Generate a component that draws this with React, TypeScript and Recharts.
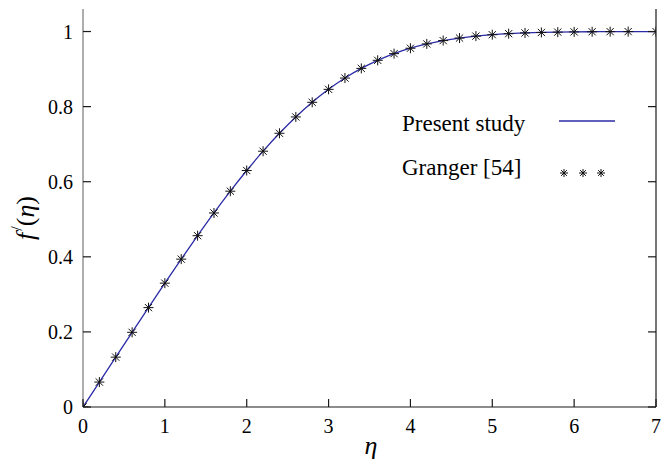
import React from 'react';
import { ComposedChart, Line, Scatter, XAxis, YAxis, Legend } from 'recharts';

// Present study: f'(eta)
const etaLine = [0, 0.2, 0.4, 0.6, 0.8, 1.0, 1.2, 1.4, 1.6, 1.8, 2.0, 2.2, 2.4, 2.6, 2.8, 3.0, 3.2, 3.4, 3.6, 3.8, 4.0, 4.2, 4.4, 4.6, 4.8, 5.0, 5.2, 5.4, 5.6, 5.8, 6.0, 6.2, 6.4, 6.6, 6.8, 7.0];
const fPrimeLine = [0, 0.0664, 0.1328, 0.1989, 0.2647, 0.3298, 0.3938, 0.4563, 0.5168, 0.5748, 0.6298, 0.6813, 0.729, 0.7725, 0.8115, 0.846, 0.8761, 0.9018, 0.9233, 0.9411, 0.9555, 0.967, 0.9759, 0.9827, 0.9878, 0.9916, 0.9943, 0.9962, 0.9975, 0.9984, 0.999, 0.9994, 0.9996, 0.9998, 0.9999, 0.9999];

// Granger [54] points
const etaGranger = [0, 0.2, 0.4, 0.6, 0.8, 1.0, 1.2, 1.4, 1.6, 1.8, 2.0, 2.2, 2.4, 2.6, 2.8, 3.0, 3.2, 3.4, 3.6, 3.8, 4.0, 4.2, 4.4, 4.6, 4.8, 5.0, 5.2, 5.4, 5.6, 5.8, 6.0, 6.22, 6.44, 6.66, 7.0];
const fPrimeGranger = [0, 0.0664, 0.1328, 0.1989, 0.2647, 0.3298, 0.3938, 0.4563, 0.5168, 0.5748, 0.6298, 0.6813, 0.729, 0.7725, 0.8115, 0.846, 0.8761, 0.9018, 0.9233, 0.9411, 0.9555, 0.967, 0.9759, 0.9827, 0.9878, 0.9916, 0.9943, 0.9962, 0.9975, 0.9984, 0.999, 0.9994, 0.9997, 0.9998, 0.9999];

const xTicks = [0, 1, 2, 3, 4, 5, 6, 7];
const yTicks = [0, 0.2, 0.4, 0.6, 0.8, 1];
const yTickLabels = ['0', '0.2', '0.4', '0.6', '0.8', '1'];
const seriesNames = ['Present study', 'Granger [54]'];

const lineData = etaLine.map((x, i) => ({ eta: x, f: fPrimeLine[i] }));
const grangerData = etaGranger.map((x, i) => ({ eta: x, f: fPrimeGranger[i] }));

const FONT = 'Liberation Serif';
const LINE_COLOR = '#2b2ba6';
const AXIS_COLOR = '#1a1a1a';

const Star = ({ cx, cy, r = 5 }: any) => {
  const d = r * 0.72;
  return (
    <g stroke="#111" strokeWidth={1}>
      <line x1={cx - r} y1={cy} x2={cx + r} y2={cy} />
      <line x1={cx} y1={cy - r} x2={cx} y2={cy + r} />
      <line x1={cx - d} y1={cy - d} x2={cx + d} y2={cy + d} />
      <line x1={cx - d} y1={cy + d} x2={cx + d} y2={cy - d} />
    </g>
  );
};

const BottomTick = ({ x, y, payload }: any) => (
  <g>
    <line x1={x} y1={y} x2={x} y2={y - 8} stroke={AXIS_COLOR} strokeWidth={1.2} />
    <text x={x} y={y + 26} textAnchor="middle" style={{ fontFamily: FONT, fontSize: 20 }}>
      {payload.value}
    </text>
  </g>
);

const TopTick = ({ x, y }: any) => (
  <line x1={x} y1={y} x2={x} y2={y + 8} stroke={AXIS_COLOR} strokeWidth={1.2} />
);

const LeftTick = ({ x, y, payload }: any) => (
  <g>
    <line x1={x} y1={y} x2={x + 8} y2={y} stroke={AXIS_COLOR} strokeWidth={1.2} />
    <text x={x - 10} y={y + 7} textAnchor="end" style={{ fontFamily: FONT, fontSize: 20 }}>
      {yTickLabels[yTicks.indexOf(payload.value)] ?? payload.value}
    </text>
  </g>
);

const RightTick = ({ x, y }: any) => (
  <line x1={x} y1={y} x2={x - 8} y2={y} stroke={AXIS_COLOR} strokeWidth={1.2} />
);

const LegendContent = () => (
  <svg width={662} height={465} style={{ position: 'absolute', left: 0, top: 0 }}>
    <text x={402} y={131} style={{ fontFamily: FONT, fontSize: 23 }}>{seriesNames[0]}</text>
    <line x1={559} y1={121} x2={615} y2={121} stroke={LINE_COLOR} strokeWidth={1.3} />
    <text x={402} y={175} style={{ fontFamily: FONT, fontSize: 23 }}>{seriesNames[1]}</text>
    <Star cx={564} cy={173} r={4} />
    <Star cx={583} cy={173} r={4} />
    <Star cx={601} cy={173} r={4} />
  </svg>
);

export default function App() {
  return (
    <div style={{ position: 'absolute', left: 0, top: 0, width: 662, height: 465, background: '#fff' }}>
      <ComposedChart width={662} height={465} margin={{ top: 9, right: 0, bottom: 0, left: 0 }}>
        <XAxis
          xAxisId="bottom"
          dataKey="eta"
          type="number"
          domain={[0, 7]}
          ticks={xTicks}
          allowDataOverflow
          height={58}
          tickSize={0}
          tickMargin={0}
          tickLine={false}
          axisLine={{ stroke: AXIS_COLOR, strokeWidth: 1.2 }}
          tick={<BottomTick />}
          interval={0}
          label={() => (
            <text x={371} y={454} textAnchor="middle" style={{ fontFamily: FONT, fontSize: 26, fontStyle: 'italic' }}>
              η
            </text>
          )}
        />
        <XAxis
          xAxisId="top"
          orientation="top"
          type="number"
          domain={[0, 7]}
          ticks={xTicks}
          allowDataOverflow
          height={0}
          tickSize={0}
          tickMargin={0}
          tickLine={false}
          axisLine={{ stroke: AXIS_COLOR, strokeWidth: 1.2 }}
          tick={<TopTick />}
          interval={0}
        />
        <YAxis
          yAxisId="left"
          type="number"
          domain={[0, 1.06]}
          ticks={yTicks}
          allowDataOverflow
          width={83}
          tickSize={0}
          tickMargin={0}
          tickLine={false}
          axisLine={{ stroke: '#777', strokeWidth: 1.2 }}
          tick={<LeftTick />}
          interval={0}
          label={() => (
            <text
              x={25}
              y={218}
              transform="rotate(-90, 25, 218)"
              textAnchor="middle"
              dominantBaseline="central"
              style={{ fontFamily: FONT, fontSize: 26 }}
            >
              <tspan style={{ fontStyle: 'italic' }}>f</tspan>
              <tspan style={{ fontSize: 16 }} dy={-9} dx={2}>/</tspan>
              <tspan dy={9}>(</tspan>
              <tspan style={{ fontStyle: 'italic' }}>η</tspan>
              <tspan>)</tspan>
            </text>
          )}
        />
        <YAxis
          yAxisId="right"
          orientation="right"
          type="number"
          domain={[0, 1.06]}
          ticks={yTicks}
          allowDataOverflow
          width={6}
          tickSize={0}
          tickMargin={0}
          tickLine={false}
          axisLine={{ stroke: AXIS_COLOR, strokeWidth: 1.2 }}
          tick={<RightTick />}
          interval={0}
        />
        <Legend
          layout="horizontal"
          verticalAlign="middle"
          align="center"
          content={<LegendContent />}
          wrapperStyle={{ left: 0, top: 0, width: 662, height: 465, pointerEvents: 'none' }}
        />
        <Line
          xAxisId="bottom"
          yAxisId="left"
          data={lineData}
          dataKey="f"
          name={seriesNames[0]}
          type="monotone"
          stroke={LINE_COLOR}
          strokeWidth={1.3}
          dot={false}
          activeDot={false}
          isAnimationActive={false}
        />
        <Scatter
          xAxisId="bottom"
          yAxisId="left"
          data={grangerData}
          dataKey="f"
          name={seriesNames[1]}
          shape={(p: any) => <Star cx={p.cx} cy={p.cy} r={5} />}
          isAnimationActive={false}
        />
      </ComposedChart>
    </div>
  );
}
